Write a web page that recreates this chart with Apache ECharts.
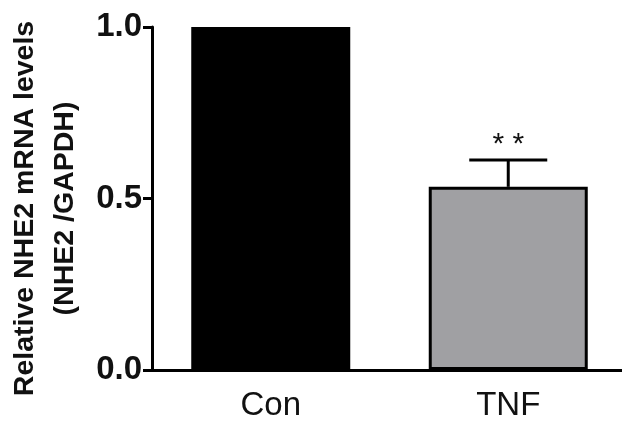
<!DOCTYPE html>
<html>
<head>
<meta charset="utf-8">
<script src="https://cdn.jsdelivr.net/npm/echarts@6/dist/echarts.min.js"></script>
<style>html,body{margin:0;padding:0;background:#fff;}#c{width:622px;height:430px;}</style>
</head>
<body>
<div id="c"></div>
<script>
const categories = ['Con', 'TNF'];
const means = [1.0, 0.534];
const errors = [0, 0.078];
const significance = ['', '* *'];
const barColors = ['#000000', '#a0a0a3'];
const yTicks = [0, 0.5, 1.0];

const FONT = '"Liberation Sans", Arial, sans-serif';
const chart = echarts.init(document.getElementById('c'), null, {renderer: 'canvas'});

const barData = means.map((v, i) => ({value: v, itemStyle: {color: barColors[i]}}));
const errData = means.map((v, i) => [i, v, v + errors[i], significance[i]]);

chart.setOption({
  animation: false,
  backgroundColor: '#ffffff',
  grid: {left: 152, right: -5, top: 27, bottom: 60, containLabel: false, outerBoundsMode: 'none'},
  xAxis: {
    type: 'category',
    data: categories,
    axisLine: {lineStyle: {color: '#000', width: 3}},
    axisTick: {show: false},
    axisLabel: {fontFamily: FONT, fontSize: 33, color: '#111', margin: 19}
  },
  yAxis: {
    type: 'value',
    min: yTicks[0], max: yTicks[yTicks.length - 1], interval: 0.5,
    splitLine: {show: false},
    axisLine: {show: true, lineStyle: {color: '#000', width: 3}},
    axisTick: {show: true, length: 9, lineStyle: {color: '#000', width: 3}},
    axisLabel: {fontFamily: FONT, fontSize: 33, fontWeight: 'bold', color: '#111', margin: 10,
      formatter: v => v.toFixed(1)},
    name: 'Relative NHE2 mRNA levels\n(NHE2 /GAPDH)',
    nameLocation: 'middle',
    nameRotate: 90,
    nameGap: 66,
    nameTextStyle: {fontFamily: FONT, fontSize: 28.5, fontWeight: 'bold', color: '#111',
      lineHeight: 40, align: 'center', padding: [0, 20, 0, 0]}
  },
  series: [
    {
      type: 'bar',
      data: barData,
      barWidth: 159,
      itemStyle: {borderColor: '#000', borderWidth: 3}
    },
    {
      type: 'custom',
      data: errData,
      z: 1,
      renderItem: function (params, api) {
        const i = api.value(0);
        if (api.value(2) <= api.value(1)) return null;
        const base = api.coord([i, api.value(1)]);
        const top = api.coord([i, api.value(2)]);
        const half = 39;
        return {
          type: 'group',
          children: [
            {type: 'line', shape: {x1: base[0], y1: base[1], x2: top[0], y2: top[1]},
              style: {stroke: '#000', lineWidth: 3}},
            {type: 'line', shape: {x1: top[0] - half, y1: top[1], x2: top[0] + half, y2: top[1]},
              style: {stroke: '#000', lineWidth: 3}},
            {type: 'text', x: top[0], y: top[1],
              style: {text: api.value(3), fontFamily: FONT, fontSize: 30, fill: '#111',
                align: 'center', verticalAlign: 'bottom'}}
          ]
        };
      }
    }
  ]
});
</script>
</body>
</html>
